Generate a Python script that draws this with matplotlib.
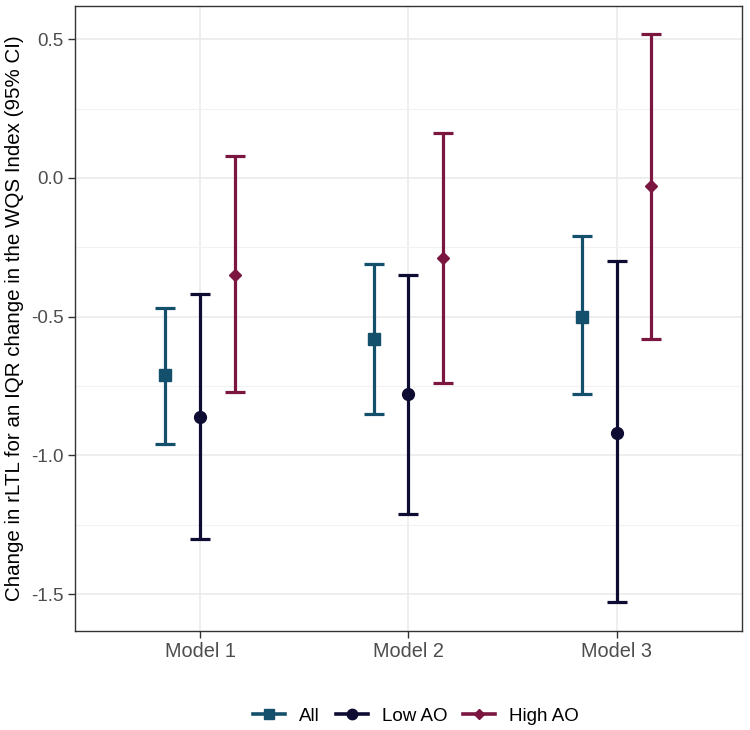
import matplotlib.pyplot as plt
import numpy as np
from matplotlib.lines import Line2D

plt.rcParams['font.family'] = ['Liberation Sans', 'DejaVu Sans']
plt.rcParams['axes.unicode_minus'] = False

models = ['Model 1', 'Model 2', 'Model 3']
groups = ['All', 'Low AO', 'High AO']

all_est = [-0.71, -0.58, -0.50]
all_lo = [-0.96, -0.85, -0.78]
all_hi = [-0.47, -0.31, -0.21]

low_est = [-0.86, -0.78, -0.92]
low_lo = [-1.30, -1.21, -1.53]
low_hi = [-0.42, -0.35, -0.30]

high_est = [-0.35, -0.29, -0.03]
high_lo = [-0.77, -0.74, -0.58]
high_hi = [0.08, 0.16, 0.52]

colors = ['#14506b', '#0e0c33', '#7b1641']
markers = ['s', 'o', 'D']
msizes = [8, 8.5, 6.5]

fig = plt.figure(figsize=(7.5, 7.3), dpi=100)
ax = fig.add_axes([0.1, 0.1356, 0.889, 0.856])

x = np.arange(1, len(models) + 1)
offsets = [-1/6, 0, 1/6]
series = [(all_est, all_lo, all_hi), (low_est, low_lo, low_hi), (high_est, high_lo, high_hi)]

handles = []
for i, (est, lo, hi) in enumerate(series):
    est = np.array(est)
    err = [est - np.array(lo), np.array(hi) - est]
    ax.errorbar(x + offsets[i], est, yerr=err, fmt=markers[i], color=colors[i],
                ms=msizes[i], elinewidth=2.3, capsize=7.3, capthick=2.3, zorder=3)
    handles.append(Line2D([], [], color=colors[i], marker=markers[i], lw=2.6,
                          ms=msizes[i] - 1))

ax.set_xlim(0.4, 3.6)
ax.set_ylim(-1.633, 0.619)
ax.set_xticks(x)
ax.set_xticklabels(models)
ax.set_yticks([-1.5, -1.0, -0.5, 0.0, 0.5])
ax.set_yticklabels(['-1.5', '-1.0', '-0.5', '0.0', '0.5'])
ax.set_yticks(np.arange(-1.5, 0.6, 0.25), minor=True)
ax.set_xticks([], minor=True)

ax.grid(True, which='major', color='#ebebeb', lw=1.2, zorder=0)
ax.grid(True, which='minor', axis='y', color='#f2f2f2', lw=0.8, zorder=0)
ax.set_axisbelow(True)
for s in ax.spines.values():
    s.set_color('#333333')
    s.set_linewidth(1.0)

ax.tick_params(axis='y', which='major', labelsize=13.5, labelcolor='#4d4d4d',
               color='#333333', length=5, width=1, pad=3)
ax.tick_params(axis='x', which='major', labelsize=14.3, labelcolor='#4d4d4d',
               color='#333333', length=5, width=1, pad=3)
ax.tick_params(axis='y', which='minor', length=0)
ax.set_ylabel('Change in rLTL for an IQR change in the WQS Index (95% CI)',
              fontsize=14.8, color='black')
ax.yaxis.set_label_coords(-0.0765, 0.5)

fig.legend(handles, groups, loc='center', bbox_to_anchor=(0.555, 0.019),
           ncol=3, frameon=False, fontsize=13.5, handlelength=1.7,
           columnspacing=0.85, handletextpad=0.75)

fig.savefig('out.png', dpi=100)
